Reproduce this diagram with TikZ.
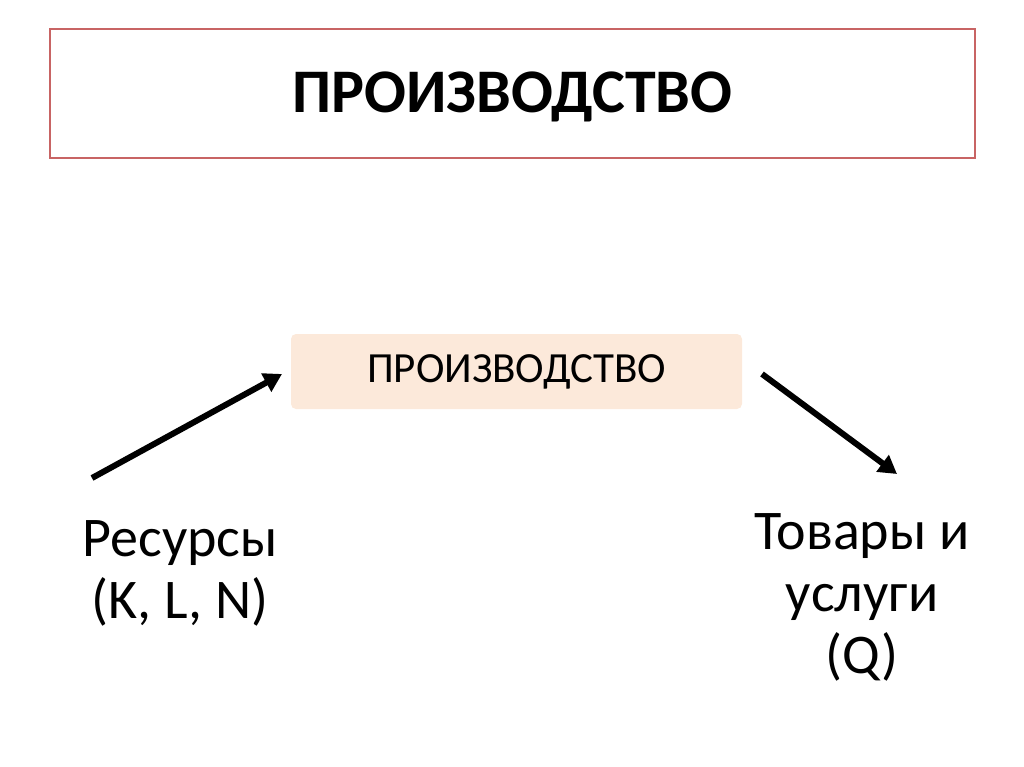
\documentclass[tikz,border=0pt]{standalone}
\usepackage{fontspec}
\setmainfont{Carlito}
\usetikzlibrary{arrows.meta}
\begin{document}
\begin{tikzpicture}[x=1pt,y=-1pt,
  arr/.style={line width=6pt,-{Triangle[length=18pt,width=20pt]}},
  lbl/.style={font=\fontsize{56}{62}\selectfont,align=center}]
\useasboundingbox (0,0) rectangle (1024,767);
\node[draw={rgb,255:red,200;green,100;blue,100},line width=2pt,minimum width=925pt,minimum height=129pt,inner sep=0pt] (top) at (512.5,93.5) {};
\node[font=\bfseries\fontsize{62}{70}\selectfont] (toptext) at (512.5,97) {ПРОИЗВОДСТВО};
\node[fill={rgb,255:red,252;green,233;blue,218},rounded corners=5pt,minimum width=451pt,minimum height=75pt,font=\fontsize{43}{48}\selectfont] (mid) at (516.5,371.5) {ПРОИЗВОДСТВО};
\node[lbl] (res) at (180,573) {Ресурсы\\(K, L, N)};
\node[lbl] (tov) at (862,597) {Товары и\\услуги\\(Q)};
\coordinate (a1) at (92,478); \coordinate (a2) at (282,374);
\coordinate (b1) at (762,374); \coordinate (b2) at (897,474);
\draw[arr] (a1) -- (a2);
\draw[arr] (b1) -- (b2);
\end{tikzpicture}
\end{document}
